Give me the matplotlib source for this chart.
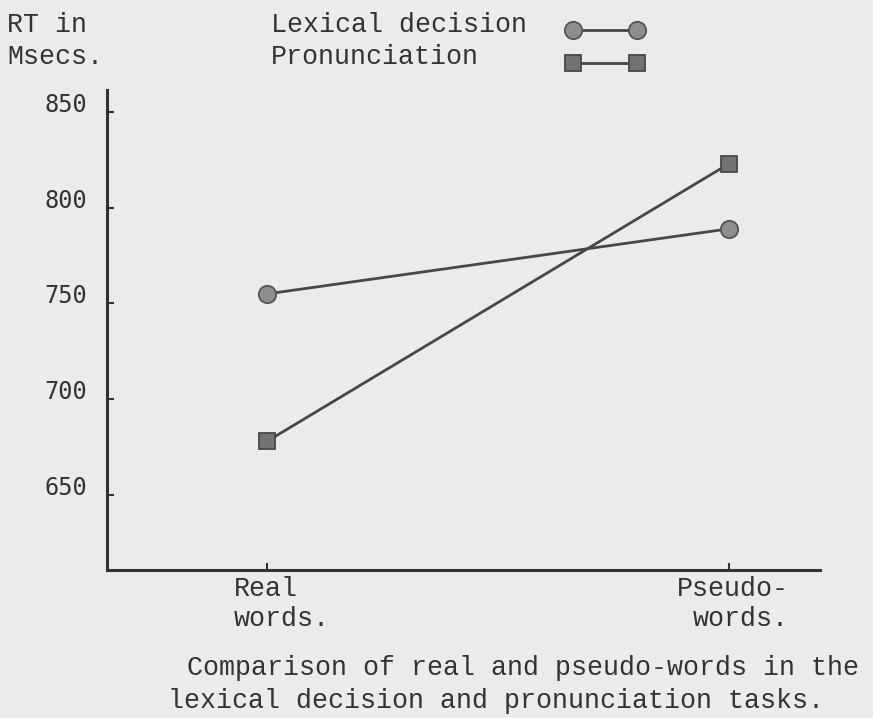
import numpy as np
import matplotlib.pyplot as plt
from matplotlib.lines import Line2D

conditions = ["Real\nwords.", "Pseudo-\nwords."]
lexical = [755, 789]
pronunciation = [678, 823]
yticks = [650, 700, 750, 800, 850]

ink = "#333333"
paper = "#ebebe9"
mono = "Liberation Mono"
fs = 19.2

fig = plt.figure(figsize=(8.73, 7.18), dpi=100, facecolor=paper)
# axes box: x 107..820 px, y 90..570 px (from top)
ax = fig.add_axes([107/873, 148/718, 713/873, 480/718])
ax.set_facecolor(paper)

x = np.arange(len(conditions))
circ = dict(marker="o", ms=12.5, mfc="#8e8e8e", mec="#555555", mew=1.3)
sq = dict(marker="s", ms=11.5, mfc="#727272", mec="#484848", mew=1.3)
ax.plot(x, lexical, color="#474747", lw=2, **circ)
ax.plot(x, pronunciation, color="#474747", lw=2, **sq)

ax.set_xlim(-0.3463, 1.197)
ax.set_ylim(610.8, 861.5)
ax.set_yticks(yticks)
# typed numbers sit a little above their tick marks -> baseline on the tick
ax.set_yticklabels([str(v) for v in yticks], fontfamily="DejaVu Sans Mono",
                   fontsize=17, color=ink, va="baseline")
ax.set_xticks(x)
ax.set_xticklabels([])
ax.tick_params(direction="in", length=5, width=1.5, color=ink)
ax.tick_params(axis="y", pad=14)
for s in ["top", "right"]:
    ax.spines[s].set_visible(False)
for s in ["left", "bottom"]:
    ax.spines[s].set_linewidth(2.2)
    ax.spines[s].set_color(ink)

# category labels under the axis
ax.annotate(conditions[0], xy=(x[0], 0), xycoords=("data", "axes fraction"),
            xytext=(-23.8, -4.5), textcoords="offset points", ha="left", va="top",
            fontfamily=mono, fontsize=fs, color=ink, linespacing=1.2)
ax.annotate(conditions[1], xy=(x[1], 0), xycoords=("data", "axes fraction"),
            xytext=(43, -4.5), textcoords="offset points", ha="right", va="top",
            fontfamily=mono, fontsize=fs, color=ink, linespacing=1.2,
            multialignment="right")

# y unit label
fig.text(7/873, 1 - 32/718, "RT in", ha="left", va="baseline",
         fontfamily=mono, fontsize=fs, color=ink)
fig.text(7/873, 1 - 64/718, "Msecs.", ha="left", va="baseline",
         fontfamily=mono, fontsize=fs, color=ink)

# key, typed text followed by the symbol
fig.text(271/873, 1 - 32/718, "Lexical decision", ha="left", va="baseline",
         fontfamily=mono, fontsize=fs, color=ink)
fig.text(271/873, 1 - 64/718, "Pronunciation", ha="left", va="baseline",
         fontfamily=mono, fontsize=fs, color=ink)
fig.add_artist(Line2D([573/873, 637/873], [1 - 30/718, 1 - 30/718],
                      transform=fig.transFigure, color="#474747", lw=2, **circ))
fig.add_artist(Line2D([573/873, 637/873], [1 - 63/718, 1 - 63/718],
                      transform=fig.transFigure, color="#474747", lw=2, **sq))

fig.text(187/873, 1 - 668/718, "Comparison of real and pseudo-words in the",
         ha="left", va="center", fontfamily=mono, fontsize=fs, color=ink)
fig.text(168/873, 1 - 701/718, "lexical decision and pronunciation tasks.",
         ha="left", va="center", fontfamily=mono, fontsize=fs, color=ink)

fig.savefig("out.png", dpi=100, facecolor=paper)
